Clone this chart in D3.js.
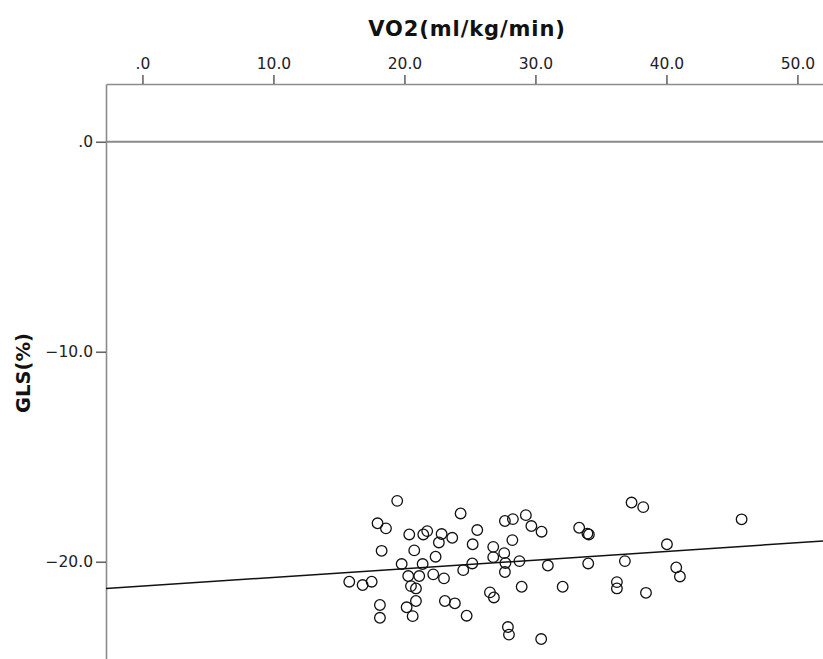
<!DOCTYPE html>
<html>
<head>
<meta charset="utf-8">
<script src="https://cdn.jsdelivr.net/npm/d3@7"></script>
<style>
  html, body { margin: 0; padding: 0; background: #fff; }
  svg { display: block; }
</style>
</head>
<body>
<div id="chart"></div>
<script>
// VO2 (ml/kg/min) per subject
const vo2 = [
  15.79, 16.81, 17.50, 17.95, 18.59, 18.26, 18.13, 18.13, 19.45, 19.79,
  20.37, 20.75, 20.29, 20.50, 20.88, 20.88, 20.17, 20.63, 21.13, 21.39,
  21.44, 21.74, 22.20, 22.38, 22.84, 22.63, 23.02, 23.09, 23.85, 23.65,
  24.29, 24.49, 24.75, 25.21, 25.18, 25.56, 26.53, 26.83, 26.78, 26.78,
  27.62, 27.71, 27.67, 27.67, 28.28, 28.24, 27.90, 27.98, 28.78, 28.95,
  29.27, 29.69, 30.47, 30.44, 30.95, 32.08, 33.34, 33.97, 34.08, 34.03,
  36.22, 36.22, 36.83, 37.34, 38.23, 38.44, 40.04, 40.75, 41.03, 45.74
];
// GLS (%) per subject, same order
const gls = [
  -20.95, -21.11, -20.95, -18.17, -18.41, -19.48, -22.06, -22.67, -17.10, -20.11,
  -18.70, -19.46, -20.68, -21.16, -21.27, -21.87, -22.17, -22.59, -20.68, -20.11,
  -18.70, -18.54, -20.60, -19.76, -18.68, -19.08, -20.79, -21.87, -21.98, -18.86,
  -17.70, -20.40, -22.57, -19.17, -20.08, -18.49, -21.46, -21.70, -19.29, -19.78,
  -19.59, -20.06, -20.49, -18.06, -17.97, -18.97, -23.11, -23.47, -19.97, -21.19,
  -17.78, -18.30, -18.57, -23.68, -20.18, -21.19, -18.38, -18.66, -18.70, -20.08,
  -20.97, -21.27, -19.97, -17.18, -17.40, -21.48, -19.17, -20.27, -20.70, -17.98
];
const xTicks = [0, 10, 20, 30, 40, 50];
const yTicks = [0, -10, -20];
const tickLabel = v => v === 0 ? ".0" : v.toFixed(1).replace("-", "\u2212");

// fit line: GLS = a + b * VO2
const fitIntercept = -21.16;
const fitSlope = 0.0413;

const width = 823;
const height = 659;

const plotLeft = 106;
const plotTop = 84;

const x = d3.scaleLinear().domain([-2.78, 52.5]).range([plotLeft, plotLeft + 55.28 * 13.1]);
const y = d3.scaleLinear().domain([2.75, -25]).range([plotTop, plotTop + 27.75 * 21]);

const svg = d3.select("#chart").append("svg")
  .attr("width", width)
  .attr("height", height)
  .attr("viewBox", [0, 0, width, height]);

svg.append("defs").append("clipPath").attr("id", "plot-clip")
  .append("rect")
  .attr("x", plotLeft).attr("y", plotTop)
  .attr("width", width - plotLeft).attr("height", height - plotTop);

// axis titles
svg.append("text")
  .attr("x", 467)
  .attr("y", 36)
  .attr("text-anchor", "middle")
  .attr("font-family", "DejaVu Sans, sans-serif")
  .attr("font-weight", "bold")
  .attr("font-size", 21)
  .attr("letter-spacing", 0.9)
  .attr("fill", "#111")
  .text("VO2(ml/kg/min)");

svg.append("text")
  .attr("transform", "translate(30,373) rotate(-90)")
  .attr("text-anchor", "middle")
  .attr("font-family", "DejaVu Sans, sans-serif")
  .attr("font-weight", "bold")
  .attr("font-size", 19.5)
  .attr("fill", "#111")
  .text("GLS(%)");

// top axis
const xAxis = svg.append("g")
  .attr("transform", `translate(0,${plotTop})`)
  .call(d3.axisTop(x).tickValues(xTicks).tickFormat(tickLabel).tickSize(9).tickPadding(6).tickSizeOuter(0));

// left axis
const yAxis = svg.append("g")
  .attr("transform", `translate(${plotLeft},0)`)
  .call(d3.axisLeft(y).tickValues(yTicks).tickFormat(tickLabel).tickSize(10).tickPadding(3).tickSizeOuter(0));

[xAxis, yAxis].forEach(g => {
  g.select(".domain").attr("stroke", "#8c8c8c").attr("stroke-width", 1.6);
  g.selectAll(".tick line").attr("stroke", "#666").attr("stroke-width", 1.6);
  g.selectAll(".tick text")
    .attr("font-family", "DejaVu Sans, sans-serif")
    .attr("font-size", 15.5)
    .attr("fill", "#222");
});

const plot = svg.append("g").attr("clip-path", "url(#plot-clip)");

// reference line at 0
plot.append("line")
  .attr("x1", plotLeft).attr("x2", width)
  .attr("y1", y(0)).attr("y2", y(0))
  .attr("stroke", "#8a8a8a")
  .attr("stroke-width", 2.2);

// fit line
const xd = x.domain();
plot.append("line")
  .attr("x1", x(xd[0])).attr("y1", y(fitIntercept + fitSlope * xd[0]))
  .attr("x2", x(xd[1])).attr("y2", y(fitIntercept + fitSlope * xd[1]))
  .attr("stroke", "#111")
  .attr("stroke-width", 1.5);

// points
plot.append("g")
  .selectAll("circle")
  .data(vo2.map((v, i) => [v, gls[i]]))
  .join("circle")
  .attr("cx", d => x(d[0]))
  .attr("cy", d => y(d[1]))
  .attr("r", 5.3)
  .attr("fill", "none")
  .attr("stroke", "#111")
  .attr("stroke-width", 1.3);
</script>
</body>
</html>
